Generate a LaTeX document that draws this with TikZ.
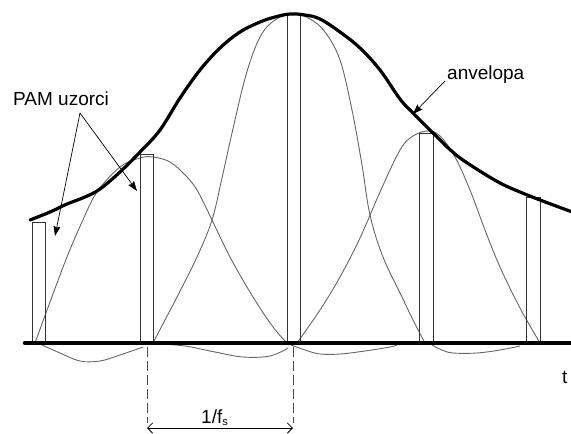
\documentclass[tikz,border=0pt]{standalone}
\usepackage{fontspec}
\setmainfont{Liberation Sans}
\usetikzlibrary{arrows.meta}
\begin{document}
\begin{tikzpicture}[x=1pt,y=-1pt,
  sincline/.style={draw=black!60, line width=0.9pt},
  pulsebox/.style={draw=black!80, line width=1pt},
  envline/.style={line width=3.2pt, line cap=round},
  axisline/.style={line width=4.5pt, line cap=round},
  lbl/.style={font=\fontsize{19}{22}\selectfont, inner sep=0pt},
  callout/.style={line width=0.7pt, -{Stealth[length=10pt,width=7pt,inset=1.5pt]}},
  dimline/.style={line width=0.8pt, {Straight Barb[length=5pt,width=10pt]}-{Straight Barb[length=5pt,width=10pt]}},
  guide/.style={line width=0.8pt, dash pattern=on 10pt off 4pt, draw=black!70}
]
\useasboundingbox (0,0) rectangle (571,434);

% sinc curves (positive lobes)
\draw[sincline] plot[smooth, tension=0.6] coordinates {(35,343) (50,302) (67,257) (82,222) (97,192) (120,167) (140,158) (153,157) (170,162) (185,175) (197,190) (212,220) (230,257) (253,297) (273,327) (287,343)};
\draw[sincline] plot[smooth, tension=0.6] coordinates {(153,343) (165,320) (177,297) (197,257) (212,220) (222,178) (232,133) (246,75) (260,37) (275,20) (293,14) (310,19) (325,32) (340,60) (352,110) (362,165) (370,215) (383,257) (402,297) (413,320) (425,343)};
\draw[sincline] plot[smooth, tension=0.6] coordinates {(297,343) (320,310) (340,277) (360,238) (380,192) (400,150) (413,136) (428,131) (440,136) (455,157) (470,190) (485,230) (500,267) (520,308) (540,343)};
% negative lobes
\draw[sincline] plot[smooth, tension=0.6] coordinates {(42,345) (60,353) (80,361) (100,361) (120,355) (143,347)};
\draw[sincline] plot[smooth, tension=0.6] coordinates {(160,344) (185,346) (215,352) (243,357) (270,356) (288,348)};
\draw[sincline] plot[smooth, tension=0.6] coordinates {(291,345) (305,350) (320,354) (340,354) (365,351) (390,347) (397,345)};
\draw[sincline] plot[smooth, tension=0.6] coordinates {(432,345) (442,350) (453,353) (477,353) (500,350) (520,346)};

% PAM pulses
\draw[pulsebox] (32,343) rectangle (45,222);
\draw[pulsebox] (140,343) rectangle (153,154);
\draw[pulsebox] (287,343) rectangle (300,14);
\draw[pulsebox] (419,343) rectangle (433,133);
\draw[pulsebox] (526,343) rectangle (540,197);

% envelope
\draw[envline] plot[smooth, tension=0.6] coordinates {(30,220) (50,212) (67,204) (85,197) (100,189) (120,172) (140,152) (160,130) (180,98) (200,70) (220,48) (240,32) (260,22) (275,17) (290,14) (305,15) (320,19) (340,32) (360,48) (380,70) (400,99) (413,113) (433,133) (455,154) (475,168) (500,183) (520,192) (540,200) (575,213)};

% time axis
\draw[axisline] (25,343) -- (575,343);

% spacing marks
\coordinate (ga1) at (147,347);
\coordinate (gb1) at (147,423);
\coordinate (ga2) at (293,347);
\coordinate (gb2) at (293,423);
\coordinate (da) at (147,428);
\coordinate (db) at (293,428);
\draw[guide] (ga1) -- (gb1);
\draw[guide] (ga2) -- (gb2);
\draw[dimline] (da) -- (db);
\node[lbl, anchor=base west] (per) at (201,423) {1/f\textsubscript{\fontsize{11}{12}\selectfont s}};

% labels and callouts
\node[lbl, anchor=base west] (pam) at (13,105) {PAM uzorci};
\coordinate (pamfork) at (80,113);
\coordinate (pamtipa) at (55,236);
\coordinate (pamtipb) at (137,191);
\draw[callout] (pamfork) -- (pamtipa);
\draw[callout] (pamfork) -- (pamtipb);

\node[lbl, anchor=base west] (env) at (447,79) {anvelopa};
\coordinate (envtail) at (445,81);
\coordinate (envtip) at (413,114);
\draw[callout] (envtail) -- (envtip);

\node[lbl, anchor=base west] (tlabel) at (562,383) {t};
\end{tikzpicture}
\end{document}
